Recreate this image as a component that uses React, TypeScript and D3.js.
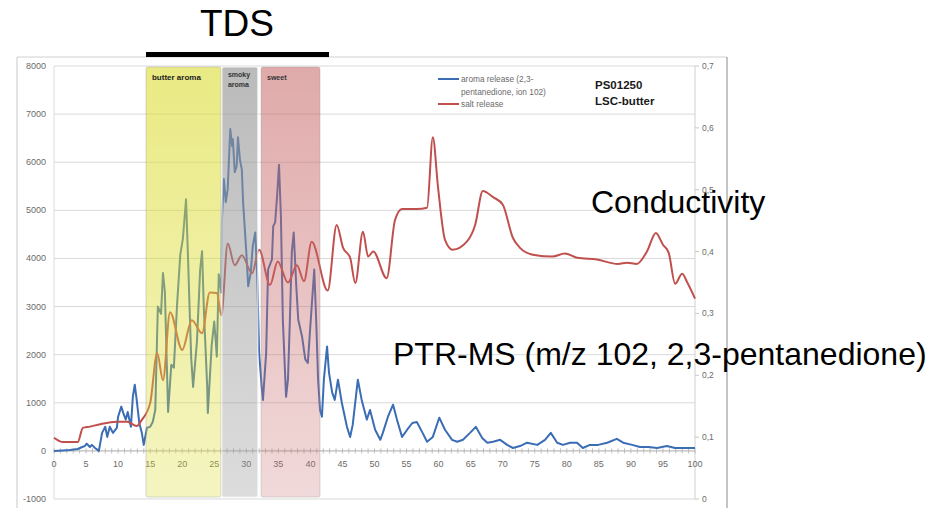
import React from "react";
import * as d3 from "d3";

// ---------- data ----------
const aromaTime = [0, 1.4, 2.5, 3.7, 4.4, 4.8, 5.1, 5.6, 5.9, 6.4, 7.0, 7.5, 8.0, 8.3, 8.7, 9.2, 9.8, 10.0, 10.5, 10.8, 11.2, 11.5, 12.0, 12.3, 12.6, 12.9, 13.3, 13.7, 14.0, 14.5, 15.0, 15.4, 15.8, 16.2, 16.7, 17.0, 17.3, 17.8, 18.3, 18.7, 19.2, 19.7, 20.1, 20.6, 20.9, 21.4, 21.7, 22.3, 22.8, 23.1, 23.4, 23.9, 24.0, 24.6, 25.0, 25.4, 25.7, 26.1, 26.2, 26.5, 26.8, 27.1, 27.5, 27.8, 27.9, 28.2, 28.5, 28.7, 29.0, 29.3, 29.5, 30.0, 30.3, 30.7, 31.0, 31.4, 31.7, 32.0, 32.4, 32.6, 33.1, 33.4, 34.0, 34.2, 34.5, 34.8, 35.1, 35.4, 35.7, 36.2, 36.5, 36.8, 37.1, 37.4, 37.8, 38.1, 38.7, 39.2, 39.6, 40.2, 40.6, 40.9, 41.2, 41.5, 41.8, 42.1, 42.6, 42.9, 43.4, 43.8, 44.3, 44.9, 45.7, 46.2, 46.6, 47.4, 48.0, 48.8, 49.3, 50.1, 50.9, 51.3, 52.1, 52.9, 53.5, 54.3, 55.1, 55.9, 56.6, 57.4, 58.2, 59.1, 60.1, 61.0, 62.1, 62.9, 63.8, 64.9, 65.8, 66.8, 67.6, 68.5, 69.6, 70.7, 71.6, 72.7, 73.8, 75.4, 76.6, 77.5, 78.5, 79.4, 80.5, 81.6, 82.5, 83.6, 84.9, 86.3, 87.8, 88.8, 90.2, 91.4, 92.7, 94.1, 95.6, 96.9, 98.1, 100];
const aromaValue = [0, 10, 20, 40, 80, 100, 150, 80, 125, 60, 0, 375, 500, 290, 500, 375, 480, 710, 920, 790, 650, 810, 500, 1125, 1375, 1060, 580, 375, 125, 480, 500, 600, 850, 3000, 2850, 3700, 3300, 810, 1790, 1730, 3040, 4080, 4400, 5230, 4040, 1940, 1330, 2270, 3770, 4150, 2870, 1330, 790, 2200, 2690, 1960, 3670, 3290, 4810, 5650, 5170, 5440, 6690, 6330, 6480, 5790, 5920, 6520, 6060, 5850, 5170, 4130, 3420, 3710, 4250, 4540, 3630, 2040, 1330, 1060, 2040, 3770, 3980, 4670, 4750, 5290, 5950, 4880, 2730, 1125, 1480, 2730, 4130, 4540, 3420, 2730, 2375, 1900, 1830, 3000, 3770, 2730, 1480, 850, 710, 1480, 2170, 1625, 1210, 1060, 1480, 1000, 500, 290, 540, 1480, 1060, 650, 850, 440, 230, 375, 710, 960, 650, 290, 440, 580, 600, 400, 190, 290, 690, 440, 230, 190, 230, 375, 500, 270, 170, 190, 230, 125, 60, 100, 170, 125, 230, 375, 170, 125, 170, 170, 60, 125, 125, 170, 250, 170, 125, 80, 80, 60, 100, 60, 60, 60];

const saltTime = [0, 1.4, 3.7, 4.5, 5.6, 7.2, 9.8, 11.4, 12.9, 13.7, 15.0, 16.1, 17.0, 18.1, 20.0, 21.5, 23.1, 24.3, 25.4, 26.1, 27.1, 28.2, 29.3, 30.9, 32.0, 33.7, 34.9, 36.5, 37.9, 39.0, 40.2, 42.7, 44.1, 45.1, 46.2, 47.0, 48.2, 49.0, 49.8, 51.9, 53.2, 54.3, 56.6, 58.2, 59.1, 59.9, 61.0, 62.2, 64.4, 65.7, 66.9, 68.5, 70.0, 71.6, 72.7, 74.7, 77.8, 79.7, 81.6, 84.7, 88.0, 89.4, 90.9, 92.5, 93.9, 95.0, 95.9, 96.9, 98.0, 98.8, 100];
const saltValue = [0.099, 0.092, 0.092, 0.115, 0.117, 0.121, 0.125, 0.125, 0.118, 0.128, 0.155, 0.236, 0.192, 0.302, 0.241, 0.289, 0.268, 0.334, 0.333, 0.297, 0.413, 0.378, 0.394, 0.365, 0.403, 0.346, 0.384, 0.35, 0.378, 0.352, 0.416, 0.337, 0.443, 0.406, 0.39, 0.349, 0.432, 0.392, 0.4, 0.357, 0.451, 0.469, 0.469, 0.471, 0.585, 0.505, 0.419, 0.403, 0.416, 0.443, 0.498, 0.488, 0.476, 0.422, 0.406, 0.395, 0.392, 0.397, 0.39, 0.387, 0.38, 0.382, 0.38, 0.4, 0.43, 0.411, 0.398, 0.348, 0.364, 0.35, 0.324];

const xTicks = [0, 5, 10, 15, 20, 25, 30, 35, 40, 45, 50, 55, 60, 65, 70, 75, 80, 85, 90, 95, 100];
const leftTicks = [-1000, 0, 1000, 2000, 3000, 4000, 5000, 6000, 7000, 8000];
const rightTicks = [0, 0.1, 0.2, 0.3, 0.4, 0.5, 0.6, 0.7];

const bandNames = ["butter aroma", "smoky aroma", "sweet"];
const bandStart = [14.35, 26.2, 32.3];
const bandEnd = [26.05, 31.8, 41.5];

const legendLabels = ["aroma release (2,3-", "pentanedione, ion 102)", "salt release"];

// ---------- layout ----------
const W = 940;
const H = 508;
const FONT = "'Liberation Sans', Arial, sans-serif";

export default function App() {
  const x = d3.scaleLinear().domain([0, 100]).range([54, 695]);
  const yL = d3.scaleLinear().domain([-1000, 8000]).range([499, 66]);
  const yR = d3.scaleLinear().domain([0, 0.7]).range([499, 66]);

  const aroma = aromaTime.map((t, i) => [t, aromaValue[i]] as [number, number]);
  const salt = saltTime.map((t, i) => [t, saltValue[i]] as [number, number]);

  const aromaLine = d3
    .line<[number, number]>()
    .x((d) => x(d[0]))
    .y((d) => yL(d[1]))
    .curve(d3.curveLinear);
  const saltLine = d3
    .line<[number, number]>()
    .x((d) => x(d[0]))
    .y((d) => yR(d[1]))
    .curve(d3.curveMonotoneX);

  const minorTicks = d3.range(0, 101, 1);
  const rightFmt = (v: number) => (v === 0 ? "0" : d3.format(".1f")(v).replace(".", ","));

  const bandFill = [
    { id: "gY", c: "rgb(220,220,50)", top: 0.6, bot: 0.3 },
    { id: "gG", c: "rgb(150,150,150)", top: 0.65, bot: 0.33 },
    { id: "gP", c: "rgb(200,105,105)", top: 0.57, bot: 0.25 },
  ];
  const bandTop = yL(7980);
  const bandBot = yL(-960);

  return (
    <svg
      width={W}
      height={H}
      style={{ position: "absolute", left: 0, top: 0, background: "#fff" }}
      fontFamily={FONT}
    >
      <defs>
        {bandFill.map((b) => (
          <linearGradient key={b.id} id={b.id} x1="0" y1="0" x2="0" y2="1">
            <stop offset="0%" stopColor={b.c} stopOpacity={b.top} />
            <stop offset="100%" stopColor={b.c} stopOpacity={b.bot} />
          </linearGradient>
        ))}
      </defs>

      {/* image frame */}
      <line x1={17} y1={57} x2={727} y2={57} stroke="#d0d0d0" />
      <line x1={17} y1={57} x2={17} y2={H} stroke="#c8c8c8" />
      <line x1={727} y1={57} x2={727} y2={H} stroke="#8a8a8a" />

      {/* gridlines */}
      {leftTicks.map((v) => (
        <line key={"g" + v} x1={x(0)} x2={x(100)} y1={yL(v)} y2={yL(v)} stroke="#d9d9d9" strokeWidth={1} />
      ))}
      <line x1={x(0)} x2={x(0)} y1={yL(8000)} y2={yL(-1000)} stroke="#dcdcdc" />
      <line x1={x(100)} x2={x(100)} y1={yL(8000)} y2={yL(-1000)} stroke="#d0d0d0" />

      {/* x axis at 0 */}
      <line x1={x(0)} x2={x(100)} y1={yL(0)} y2={yL(0)} stroke="#bcbcbc" />
      {minorTicks.map((t) => (
        <line key={"m" + t} x1={x(t)} x2={x(t)} y1={yL(0) - 2.5} y2={yL(0) + 2.5} stroke="#bcbcbc" />
      ))}
      {xTicks.map((t) => (
        <text key={"xt" + t} x={x(t)} y={yL(0) + 16} fontSize={9} fill="#6b6b6b" textAnchor="middle">
          {t}
        </text>
      ))}

      {/* left axis labels */}
      {leftTicks.map((v) => (
        <text key={"yl" + v} x={46} y={yL(v) + 3} fontSize={9} fill="#6b6b6b" textAnchor="end">
          {v}
        </text>
      ))}

      {/* right axis */}
      {rightTicks.map((v) => (
        <g key={"yr" + v}>
          <line x1={x(100)} x2={x(100) + 4} y1={yR(v)} y2={yR(v)} stroke="#c8c8c8" />
          <text x={702} y={yR(v) + 3} fontSize={8.5} fill="#6b6b6b">
            {rightFmt(v)}
          </text>
        </g>
      ))}

      {/* series */}
      <path d={aromaLine(aroma) || ""} fill="none" stroke="#3b6db4" strokeWidth={2} strokeLinejoin="round" />
      <path d={saltLine(salt) || ""} fill="none" stroke="#c0504d" strokeWidth={2} strokeLinejoin="round" />

      {/* sensory bands (drawn over lines) */}
      {bandNames.map((n, i) => (
        <rect
          key={n}
          x={x(bandStart[i])}
          y={bandTop}
          width={x(bandEnd[i]) - x(bandStart[i])}
          height={bandBot - bandTop}
          rx={2}
          fill={`url(#${bandFill[i].id})`}
          stroke={i === 1 ? "#f4f4f4" : "rgba(150,150,150,0.35)"}
          strokeWidth={1}
        />
      ))}
      <text x={x(bandStart[0]) + 6} y={80} fontSize={8} fontWeight="bold" fill="#222">
        {bandNames[0]}
      </text>
      <text x={x(bandStart[1]) + 6} y={77} fontSize={7} fontWeight="bold" fill="#333">
        smoky
      </text>
      <text x={x(bandStart[1]) + 6} y={87} fontSize={7} fontWeight="bold" fill="#333">
        aroma
      </text>
      <text x={x(bandStart[2]) + 6} y={80} fontSize={7} fontWeight="bold" fill="#333">
        {bandNames[2]}
      </text>

      {/* legend */}
      <line x1={438} x2={459} y1={79} y2={79} stroke="#3b6db4" strokeWidth={2} />
      <line x1={438} x2={459} y1={104} y2={104} stroke="#c0504d" strokeWidth={2} />
      <text x={461} y={82} fontSize={8.3} fill="#6b6b6b">{legendLabels[0]}</text>
      <text x={461} y={95} fontSize={8.3} fill="#6b6b6b">{legendLabels[1]}</text>
      <text x={461} y={107} fontSize={8.3} fill="#6b6b6b">{legendLabels[2]}</text>
      <text x={595} y={89} fontSize={11.5} fontWeight="bold" fill="#1a1a1a">PS01250</text>
      <text x={595} y={105} fontSize={11.5} fontWeight="bold" fill="#1a1a1a">LSC-butter</text>

      {/* TDS header */}
      <text x={237} y={36} fontSize={37} fill="#000" textAnchor="middle">TDS</text>
      <rect x={146} y={52} width={183} height={5} fill="#000" />

      {/* annotations */}
      <text x={591} y={213} fontSize={32} fill="#000">Conductivity</text>
      <text x={393} y={365} fontSize={32} fill="#000">PTR-MS (m/z 102, 2,3-pentanedione)</text>
    </svg>
  );
}
